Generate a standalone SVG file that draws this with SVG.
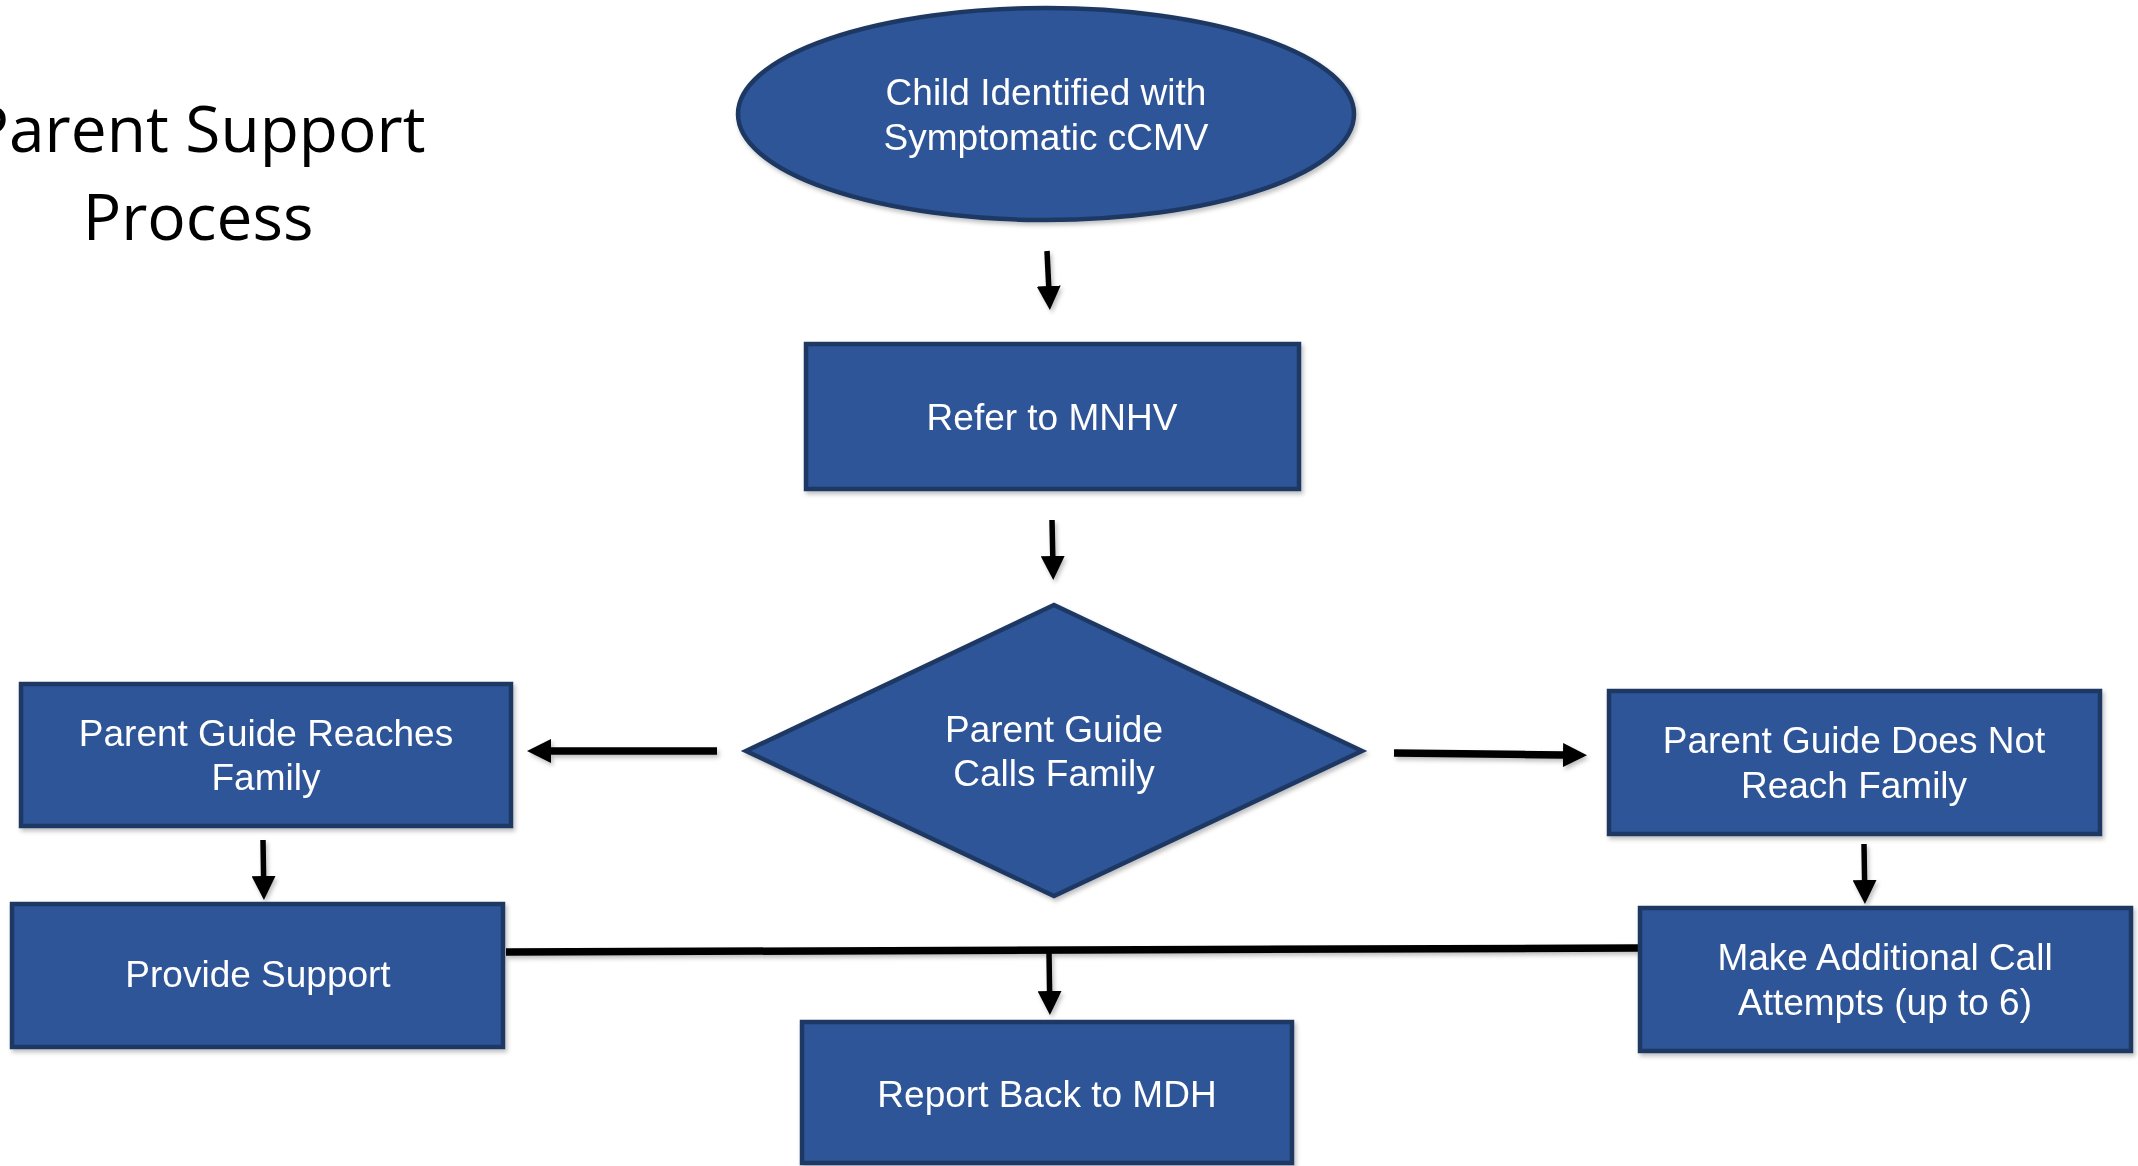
<svg xmlns="http://www.w3.org/2000/svg" width="2138" height="1166" viewBox="0 0 2138 1166">
<style>
.node{fill:#2F5597;stroke:#1F3864;stroke-width:4.5}
.lbl{font-family:"Liberation Sans",Arial,sans-serif;font-size:37px;fill:#FFFFFF;text-anchor:middle}
.title{font-family:"Open Sans","Noto Sans",sans-serif;font-size:64px;fill:#000000;text-anchor:middle}
.v{stroke:#000;stroke-width:5.5;fill:none}
.h{stroke:#000;stroke-width:7.5;fill:none}
</style>
<defs>
<filter id="sh" x="-10%" y="-10%" width="130%" height="140%">
<feDropShadow dx="2" dy="3" stdDeviation="2" flood-color="#000" flood-opacity="0.25"/>
</filter>
<marker id="ah" viewBox="0 0 24 24" refX="2" refY="12" markerWidth="24" markerHeight="24" markerUnits="userSpaceOnUse" orient="auto">
<path d="M0,0 L24,12 L0,24 z" fill="#000"/>
</marker>
</defs>
<rect width="2138" height="1166" fill="#FFFFFF"/>
<g id="title">
<text class="title" x="198" y="152">Parent Support</text>
<text class="title" x="198" y="240">Process</text>
</g>
<g id="connectors" filter="url(#sh)">
<path class="v" d="M1047,251 L1048.8,288" marker-end="url(#ah)"/>
<path class="v" d="M1052,520 L1052.8,558" marker-end="url(#ah)"/>
<path class="h" d="M717,751 L549,751" marker-end="url(#ah)"/>
<path class="h" d="M1394,753 L1565,755" marker-end="url(#ah)"/>
<path class="v" d="M263,840 L263.6,878" marker-end="url(#ah)"/>
<path class="v" d="M1864,844 L1864.6,882" marker-end="url(#ah)"/>
<path class="h" d="M506,952 L1638,948"/>
<path class="v" d="M1049,952 L1049.6,993" marker-end="url(#ah)"/>
</g>
<g id="n-child" filter="url(#sh)">
<ellipse class="node" cx="1046" cy="114" rx="308" ry="106"/>
<text class="lbl" x="1046" y="105">Child Identified with</text>
<text class="lbl" x="1046" y="150">Symptomatic cCMV</text>
</g>
<g id="n-refer" filter="url(#sh)">
<rect class="node" x="806" y="344" width="493" height="145"/>
<text class="lbl" x="1052" y="430">Refer to MNHV</text>
</g>
<g id="n-calls" filter="url(#sh)">
<polygon class="node" points="1054,605 1362,751 1054,896 746,751"/>
<text class="lbl" x="1054" y="742">Parent Guide</text>
<text class="lbl" x="1054" y="786">Calls Family</text>
</g>
<g id="n-reaches" filter="url(#sh)">
<rect class="node" x="21" y="684" width="490" height="142"/>
<text class="lbl" x="266" y="746">Parent Guide Reaches</text>
<text class="lbl" x="266" y="790">Family</text>
</g>
<g id="n-notreach" filter="url(#sh)">
<rect class="node" x="1609" y="691" width="491" height="143"/>
<text class="lbl" x="1854" y="753">Parent Guide Does Not</text>
<text class="lbl" x="1854" y="798">Reach Family</text>
</g>
<g id="n-provide" filter="url(#sh)">
<rect class="node" x="12" y="904" width="491" height="143"/>
<text class="lbl" x="258" y="987">Provide Support</text>
</g>
<g id="n-attempts" filter="url(#sh)">
<rect class="node" x="1640" y="908" width="491" height="143"/>
<text class="lbl" x="1885" y="970">Make Additional Call</text>
<text class="lbl" x="1885" y="1015">Attempts (up to 6)</text>
</g>
<g id="n-report" filter="url(#sh)">
<rect class="node" x="802" y="1022" width="490" height="141"/>
<text class="lbl" x="1047" y="1107">Report Back to MDH</text>
</g>
</svg>
